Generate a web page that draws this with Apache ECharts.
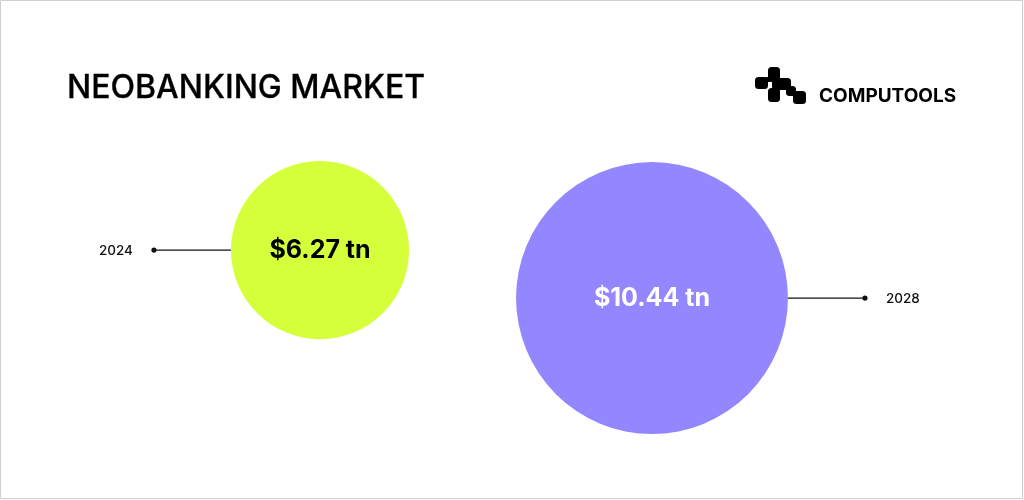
<!DOCTYPE html>
<html>
<head>
<meta charset="utf-8">
<script src="https://cdn.jsdelivr.net/npm/echarts@6/dist/echarts.min.js"></script>
<style>
  html, body { margin: 0; padding: 0; background: #fff; }
  #chart { width: 1024px; height: 500px; }
</style>
</head>
<body>
<div id="chart"></div>
<script>
  // data
  var years = [2024, 2028]
  var marketTn = [6.27, 10.44]
  var titleText = 'NEOBANKING MARKET'
  var brandText = 'COMPUTOOLS'

  var bubbleColors = ['#D4FF3A', '#9486FF']
  var labelColors = ['#000000', '#FFFFFF']
  var font = 'Inter, "Noto Sans", sans-serif'

  function bubbleSize(v) {
    return 37 + 22.5 * v[1]
  }

  var chart = echarts.init(document.getElementById('chart'), null, { renderer: 'canvas' })

  var points = years.map(function (y, i) {
    return {
      value: [y, marketTn[i]],
      itemStyle: { color: bubbleColors[i] },
      label: { color: labelColors[i] },
    }
  })

  var option = {
    animation: false,
    backgroundColor: '#fff',
    grid: { left: 71, width: 830, top: 178, height: 230 },
    xAxis: { type: 'value', min: 2021, max: 2031, show: false },
    yAxis: { type: 'value', min: 0, max: 20, inverse: true, show: false },
    series: [
      {
        type: 'scatter',
        data: points,
        symbolSize: bubbleSize,
        itemStyle: { opacity: 1 },
        label: {
          show: true,
          position: 'inside',
          fontFamily: font,
          fontSize: 25,
          fontWeight: 700,
          formatter: function (p) {
            return '$' + p.value[1].toFixed(2) + ' tn'
          },
        },
      },
    ],
  }
  chart.setOption(option)

  var graphics = [
    {
      type: 'rect',
      shape: { x: 0.5, y: 0.5, width: 1022, height: 498 },
      style: { fill: 'none', stroke: '#cfcfcf', lineWidth: 1 },
      silent: true,
    },
    {
      type: 'text',
      x: 67,
      y: 88,
      style: {
        text: titleText,
        fontFamily: font,
        fontSize: 32,
        fontWeight: 500,
        fill: '#000',
        stroke: '#000',
        lineWidth: 0.3,
        textVerticalAlign: 'middle',
      },
    },
    {
      type: 'text',
      x: 819,
      y: 96,
      style: {
        text: brandText,
        fontFamily: font,
        fontSize: 19,
        fontWeight: 700,
        fill: '#000',
        textVerticalAlign: 'middle',
      },
    },
  ]

  // logo blocks
  var logoBlocks = [
    [768, 67, 12, 15],
    [755, 77, 13, 12],
    [765, 77, 6, 5],
    [772, 78, 19, 12],
    [768, 88, 12, 14],
    [786, 86, 10, 10],
    [793, 91, 13, 13],
  ]
  logoBlocks.forEach(function (b) {
    graphics.push({
      type: 'rect',
      shape: { x: b[0], y: b[1], width: b[2], height: b[3], r: 3.5 },
      style: { fill: '#000' },
    })
  })

  // leader lines + year labels, placed from the bubbles' pixel positions
  years.forEach(function (y, i) {
    var p = chart.convertToPixel({ seriesIndex: 0 }, [y, marketTn[i]])
    var r = bubbleSize([y, marketTn[i]]) / 2
    var side = i === 0 ? -1 : 1
    var x0 = p[0] + side * r
    var x1 = p[0] + side * (r + 77)
    graphics.push({
      type: 'line',
      shape: { x1: x0, y1: p[1], x2: x1, y2: p[1] },
      style: { stroke: '#111', lineWidth: 1.2 },
      z: -1,
    })
    graphics.push({
      type: 'circle',
      shape: { cx: x1, cy: p[1], r: 2.6 },
      style: { fill: '#111' },
    })
    graphics.push({
      type: 'text',
      x: x1 + side * 21,
      y: p[1] + 1,
      style: {
        text: String(y),
        fontFamily: font,
        fontSize: 13.5,
        fontWeight: 500,
        fill: '#111',
        textAlign: i === 0 ? 'right' : 'left',
        textVerticalAlign: 'middle',
      },
    })
  })

  chart.setOption({ graphic: graphics })
  window.addEventListener('resize', chart.resize)
</script>
</body>
</html>
